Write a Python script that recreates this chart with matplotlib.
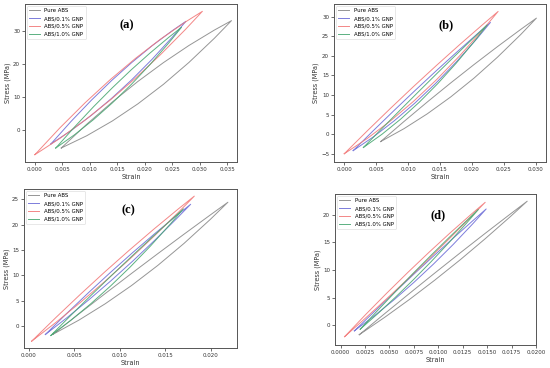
import matplotlib
matplotlib.use("Agg")
import matplotlib.pyplot as plt

# series names and colours
labels = ["Pure ABS", "ABS/0.1% GNP", "ABS/0.5% GNP", "ABS/1.0% GNP"]
colors = ["#8a8a8a", "#6f6fd8", "#f27a7a", "#4aa873"]
panel_tags = ["(a)", "(b)", "(c)", "(d)"]

# each loop: strain points from min to max, stress on loading (lower) and unloading (upper) branch
# ---- panel (a)
a_pure_strain = [0.0048, 0.00945, 0.0141, 0.01875, 0.0234, 0.02805, 0.0327, 0.0358]
a_pure_load = [-5.3, -1.6, 2.83, 7.98, 13.84, 20.43, 27.73, 33.0]
a_pure_unload = [-5.3, 1.87, 8.54, 14.71, 20.37, 25.53, 30.18, 33.0]
a_01_strain = [0.0029, 0.00659, 0.01028, 0.01397, 0.01766, 0.02135, 0.02504, 0.0275]
a_01_load = [-4.1, -0.04, 4.53, 9.64, 15.26, 21.40, 28.07, 32.8]
a_01_unload = [-4.1, 2.71, 9.07, 14.99, 20.44, 25.46, 30.01, 32.8]
a_05_strain = [0.0, 0.004575, 0.00915, 0.013725, 0.0183, 0.022875, 0.02745, 0.0305]
a_05_load = [-7.3, -2.37, 3.11, 9.13, 15.68, 22.78, 30.41, 35.8]
a_05_unload = [-7.3, 0.80, 8.32, 15.27, 21.63, 27.43, 32.64, 35.8]
a_10_strain = [0.0038, 0.00724, 0.01067, 0.01411, 0.01754, 0.02098, 0.02441, 0.0267]
a_10_load = [-5.3, -1.28, 3.24, 8.27, 13.79, 19.83, 26.36, 31.0]
a_10_unload = [-5.3, 1.06, 7.10, 12.82, 18.21, 23.28, 28.02, 31.0]

# ---- panel (b)
b_pure_strain = [0.0057, 0.00936, 0.01302, 0.01668, 0.02034, 0.0240, 0.02766, 0.0301]
b_pure_load = [-1.9, 1.40, 5.20, 9.50, 14.31, 19.63, 25.44, 29.6]
b_pure_unload = [-1.9, 3.23, 8.22, 13.07, 17.77, 22.33, 26.74, 29.6]
b_01_strain = [0.0014, 0.004625, 0.00785, 0.011075, 0.0143, 0.017525, 0.02075, 0.0229]
b_01_load = [-4.2, -0.62, 3.43, 7.94, 12.92, 18.38, 24.29, 28.5]
b_01_unload = [-4.2, 1.01, 6.11, 11.11, 16.0, 20.78, 25.45, 28.5]
b_05_strain = [0.0, 0.003615, 0.00723, 0.010845, 0.01446, 0.018075, 0.02169, 0.0241]
b_05_load = [-5.0, -1.09, 3.37, 8.37, 13.90, 19.98, 26.59, 31.3]
b_05_unload = [-5.0, 0.85, 6.56, 12.13, 17.55, 22.83, 27.96, 31.3]
b_10_strain = [0.0030, 0.00591, 0.00882, 0.01173, 0.01464, 0.01755, 0.02046, 0.0224]
b_10_load = [-3.4, -0.03, 3.81, 8.11, 12.88, 18.13, 23.83, 27.9]
b_10_unload = [-3.4, 1.45, 6.24, 10.98, 15.67, 20.3, 24.88, 27.9]

# ---- panel (c)
c_pure_strain = [0.0026, 0.005495, 0.00839, 0.011285, 0.01418, 0.017075, 0.01997, 0.0219]
c_pure_load = [-1.6, 1.23, 4.44, 8.02, 11.98, 16.32, 21.04, 24.4]
c_pure_unload = [-1.6, 2.45, 6.45, 10.4, 14.29, 18.13, 21.91, 24.4]
c_01_strain = [0.0018, 0.0042, 0.0066, 0.0090, 0.0114, 0.0138, 0.0162, 0.0178]
c_01_load = [-1.6, 1.73, 5.24, 8.93, 12.8, 16.85, 21.08, 24.0]
c_01_unload = [-1.6, 2.62, 6.71, 10.66, 14.48, 18.16, 21.71, 24.0]
c_05_strain = [0.0003, 0.002985, 0.00567, 0.008355, 0.01104, 0.013725, 0.01641, 0.0182]
c_05_load = [-2.9, 0.81, 4.73, 8.84, 13.14, 17.65, 22.35, 25.6]
c_05_unload = [-2.9, 1.78, 6.32, 10.72, 14.97, 19.08, 23.04, 25.6]
c_10_strain = [0.0024, 0.00459, 0.00678, 0.00897, 0.01116, 0.01335, 0.01554, 0.0170]
c_10_load = [-1.8, 1.17, 4.41, 7.92, 11.70, 15.75, 20.07, 23.1]
c_10_unload = [-1.8, 2.14, 6.01, 9.80, 13.52, 17.18, 20.75, 23.1]

# ---- panel (d)
d_pure_strain = [0.0019, 0.00448, 0.00706, 0.00964, 0.01222, 0.0148, 0.01738, 0.0191]
d_pure_load = [-1.7, 1.41, 4.69, 8.16, 11.8, 15.63, 19.63, 22.4]
d_pure_unload = [-1.7, 2.07, 5.78, 9.44, 13.05, 16.6, 20.1, 22.4]
d_01_strain = [0.0014, 0.003425, 0.00545, 0.007475, 0.0095, 0.011525, 0.01355, 0.0149]
d_01_load = [-1.0, 1.69, 4.59, 7.71, 11.05, 14.6, 18.37, 21.0]
d_01_unload = [-1.0, 2.45, 5.85, 9.2, 12.49, 15.73, 18.91, 21.0]
d_05_strain = [0.0004, 0.00256, 0.00472, 0.00688, 0.00904, 0.0112, 0.01336, 0.0148]
d_05_load = [-2.05, 1.33, 4.81, 8.37, 12.02, 15.77, 19.6, 22.2]
d_05_unload = [-2.05, 1.95, 5.81, 9.55, 13.17, 16.67, 20.03, 22.2]
d_10_strain = [0.0020, 0.003815, 0.00563, 0.007445, 0.00926, 0.011075, 0.01289, 0.0141]
d_10_load = [-0.7, 2.13, 5.11, 8.23, 11.49, 14.9, 18.45, 20.9]
d_10_unload = [-0.7, 2.74, 6.12, 9.42, 12.64, 15.8, 18.88, 20.9]

panels = [
    [(a_pure_strain, a_pure_load, a_pure_unload), (a_01_strain, a_01_load, a_01_unload),
     (a_05_strain, a_05_load, a_05_unload), (a_10_strain, a_10_load, a_10_unload)],
    [(b_pure_strain, b_pure_load, b_pure_unload), (b_01_strain, b_01_load, b_01_unload),
     (b_05_strain, b_05_load, b_05_unload), (b_10_strain, b_10_load, b_10_unload)],
    [(c_pure_strain, c_pure_load, c_pure_unload), (c_01_strain, c_01_load, c_01_unload),
     (c_05_strain, c_05_load, c_05_unload), (c_10_strain, c_10_load, c_10_unload)],
    [(d_pure_strain, d_pure_load, d_pure_unload), (d_01_strain, d_01_load, d_01_unload),
     (d_05_strain, d_05_load, d_05_unload), (d_10_strain, d_10_load, d_10_unload)],
]

# layout (pixel boxes of each axes: left, top, right, bottom) and limits
W, H = 550, 368
boxes = [(25, 4, 237, 162), (334, 4, 546, 162), (24, 189, 237, 348), (335, 194, 536, 345)]
xlims = [(-0.0018, 0.0368), (-0.0016, 0.0316), (-0.00055, 0.0229), (-0.00058, 0.0200)]
ylims = [(-9.5, 38.0), (-7.1, 33.2), (-4.25, 27.0), (-3.55, 23.7)]
xticks = [[0.005 * i for i in range(8)], [0.005 * i for i in range(7)],
          [0.005 * i for i in range(5)], [0.0025 * i for i in range(9)]]
xfmt = ["%.3f", "%.3f", "%.3f", "%.4f"]
yticks = [[0, 10, 20, 30], [-5, 0, 5, 10, 15, 20, 25, 30], [0, 5, 10, 15, 20, 25], [0, 5, 10, 15, 20]]
tag_pos = [(0.48, 0.867), (0.53, 0.867), (0.49, 0.868), (0.514, 0.861)]

fig = plt.figure(figsize=(W / 100, H / 100), dpi=100)

for i, series in enumerate(panels):
    l, t, r, b = boxes[i]
    ax = fig.add_axes([l / W, 1 - b / H, (r - l) / W, (b - t) / H])
    for (xs, load, unload), lab, col in zip(series, labels, colors):
        # closed hysteresis loop: loading up, unloading back down
        ax.plot(xs + xs[::-1], load + unload[::-1], color=col, lw=0.7, alpha=0.9, label=lab)
    ax.set_xlim(*xlims[i])
    ax.set_ylim(*ylims[i])
    ax.set_xticks(xticks[i])
    ax.set_xticklabels([xfmt[i] % v for v in xticks[i]])
    ax.set_yticks(yticks[i])
    ax.tick_params(labelsize=4, length=2, width=0.5, pad=1.5, colors="#333333")
    for sp in ax.spines.values():
        sp.set_linewidth(0.7)
        sp.set_color("#555555")
    ax.set_xlabel("Strain", fontsize=4.7, labelpad=1.5, color="#333333")
    ax.set_ylabel("Stress (MPa)", fontsize=4.7, labelpad=1.5, color="#333333")
    leg = ax.legend(loc="upper left", fontsize=3.9, frameon=True, borderaxespad=0.4)
    leg.get_frame().set_linewidth(0.4)
    ax.text(tag_pos[i][0], tag_pos[i][1], panel_tags[i], transform=ax.transAxes,
            ha="center", va="center", fontsize=9, fontweight="bold", family="Liberation Serif")

fig.savefig("out.png", dpi=100)
